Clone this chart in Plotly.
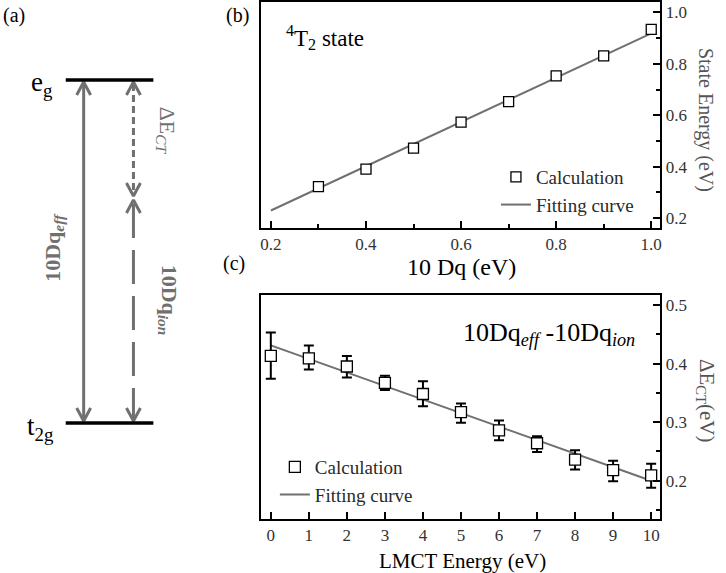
import plotly.graph_objects as go

W, H = 726, 573
SERIF = "Liberation Serif"
GRAY = "#707070"
TXT = "#2a2a2a"

# ---------------- data ----------------
# Panel (b): 4T2 state energy vs 10Dq
dq_x = [0.3, 0.4, 0.5, 0.6, 0.7, 0.8, 0.9, 1.0]
dq_energy = [0.323, 0.391, 0.472, 0.573, 0.653, 0.753, 0.831, 0.934]
dq_fit_x = [0.2, 1.0]
dq_fit_y = [0.230, 0.918]

# Panel (c): Delta E_CT vs LMCT energy
lmct_x = [0, 1, 2, 3, 4, 5, 6, 7, 8, 9, 10]
dect = [0.413, 0.409, 0.395, 0.367, 0.348, 0.317, 0.286, 0.264, 0.236, 0.218, 0.209]
dect_err_plus = [0.040, 0.022, 0.018, 0.012, 0.022, 0.015, 0.017, 0.012, 0.016, 0.016, 0.020]
dect_err_minus = [0.039, 0.019, 0.019, 0.012, 0.021, 0.018, 0.017, 0.015, 0.017, 0.019, 0.021]
lmct_fit_x = [0, 10]
lmct_fit_y = [0.431, 0.200]

# Panel (a): schematic level diagram (schematic units = pixels of panel)
level_x = [65, 153]
eg_y, t2g_y = 80, 423
eff_arrow_x = 83
ion_arrow_x = 133
ct_split_y = 198

def px(x):
    return x / W

def py(y):
    return 1 - y / H

fig = go.Figure()

# ---- panel (b) ----
fig.add_trace(go.Scatter(x=dq_fit_x, y=dq_fit_y, mode="lines", name="Fitting curve",
                         line=dict(color=GRAY, width=2), xaxis="x", yaxis="y",
                         legend="legend", legendrank=2))
fig.add_trace(go.Scatter(x=dq_x, y=dq_energy, mode="markers", name="Calculation",
                         marker=dict(symbol="square", size=10, color="white",
                                     line=dict(color="black", width=1.3)),
                         xaxis="x", yaxis="y", legend="legend", legendrank=1))

# ---- panel (c) ----
fig.add_trace(go.Scatter(x=lmct_fit_x, y=lmct_fit_y, mode="lines", name="Fitting curve",
                         line=dict(color=GRAY, width=2), xaxis="x2", yaxis="y2",
                         legend="legend2", legendrank=2))
fig.add_trace(go.Scatter(x=lmct_x, y=dect, mode="markers", name="Calculation",
                         marker=dict(symbol="square", size=11, color="white",
                                     line=dict(color="black", width=1.3)),
                         error_y=dict(type="data", array=dect_err_plus, arrayminus=dect_err_minus,
                                      color="black", thickness=2, width=5),
                         xaxis="x2", yaxis="y2", legend="legend2", legendrank=1))

# ---- panel (a) schematic ----
def chevron(xt, yt, direction):
    # direction: -1 arrow pointing up, +1 pointing down
    return [xt - 7, xt, xt + 7], [yt - direction * 13, yt, yt - direction * 13]

segments = []
segments.append(([eff_arrow_x, eff_arrow_x], [eg_y + 2, t2g_y - 2], "solid"))
segments.append(([ion_arrow_x, ion_arrow_x], [eg_y + 4, ct_split_y - 4], "7px,4px"))
segments.append(([ion_arrow_x, ion_arrow_x], [ct_split_y + 6, t2g_y - 4], "34px,12px"))
for xs, ys, dash in segments:
    fig.add_trace(go.Scatter(x=xs, y=ys, mode="lines", line=dict(color=GRAY, width=3, dash=dash),
                             xaxis="x3", yaxis="y3", showlegend=False, hoverinfo="skip"))
heads = [(eff_arrow_x, eg_y + 2, -1), (eff_arrow_x, t2g_y - 2, 1),
         (ion_arrow_x, eg_y + 2, -1), (ion_arrow_x, ct_split_y - 2, 1),
         (ion_arrow_x, ct_split_y + 2, -1), (ion_arrow_x, t2g_y - 2, 1)]
for xt, yt, d in heads:
    cx, cy = chevron(xt, yt, d)
    fig.add_trace(go.Scatter(x=cx, y=cy, mode="lines", line=dict(color=GRAY, width=3),
                             xaxis="x3", yaxis="y3", showlegend=False, hoverinfo="skip"))
for ly in [eg_y, t2g_y]:
    fig.add_trace(go.Scatter(x=level_x, y=[ly, ly], mode="lines", line=dict(color="black", width=3.5),
                             xaxis="x3", yaxis="y3", showlegend=False, hoverinfo="skip"))

# ---- axes ----
common_x = dict(showline=True, linecolor="black", linewidth=2, mirror=True,
                ticks="inside", ticklen=7, tickwidth=1.5, tickcolor="black",
                showgrid=False, zeroline=False,
                tickfont=dict(family=SERIF, size=17, color="#333"))
common_y = dict(showline=True, linecolor="black", linewidth=2, mirror=True,
                ticks="inside", ticklen=7, tickwidth=1.5, tickcolor="black",
                showgrid=False, zeroline=False, side="right",
                tickfont=dict(family=SERIF, size=17, color="#333"))

fig.update_layout(
    width=W, height=H, margin=dict(l=0, r=0, t=0, b=0),
    paper_bgcolor="white", plot_bgcolor="white",
    xaxis=dict(common_x, domain=[px(261), px(662)], range=[0.179, 1.019],
               tickvals=[0.2, 0.4, 0.6, 0.8, 1.0], tickformat=".1f",
               minor=dict(dtick=0.1, tick0=0.2, ticks="inside", ticklen=4, tickcolor="black", showgrid=False),
               anchor="y"),
    yaxis=dict(common_y, domain=[py(228), py(2)], range=[0.162, 1.04],
               tickvals=[0.2, 0.4, 0.6, 0.8, 1.0], tickformat=".1f",
               minor=dict(dtick=0.1, tick0=0.2, ticks="inside", ticklen=4, tickcolor="black", showgrid=False),
               anchor="x"),
    xaxis2=dict(common_x, domain=[px(261), px(662)], range=[-0.26, 10.24],
                tickvals=lmct_x, anchor="y2"),
    yaxis2=dict(common_y, domain=[py(519), py(295)], range=[0.1347, 0.517],
                tickvals=[0.2, 0.3, 0.4, 0.5], tickformat=".1f",
                minor=dict(dtick=0.05, tick0=0.15, ticks="inside", ticklen=4, tickcolor="black", showgrid=False),
                anchor="x2"),
    xaxis3=dict(domain=[0, px(240)], range=[0, 240], visible=False, anchor="y3"),
    yaxis3=dict(domain=[0, 1], range=[H, 0], visible=False, anchor="x3"),
    legend=dict(x=px(497), y=py(158), xanchor="left", yanchor="top",
                bgcolor="rgba(0,0,0,0)", font=dict(family=SERIF, size=19, color=TXT),
                itemwidth=30, tracegroupgap=0),
    legend2=dict(x=px(275), y=py(448), xanchor="left", yanchor="top",
                 bgcolor="rgba(0,0,0,0)", font=dict(family=SERIF, size=19, color=TXT),
                 itemwidth=30, tracegroupgap=0),
)

annotations = [
    dict(x=px(0), y=py(16), text="(a)", xanchor="left", font=dict(size=20)),
    dict(x=px(224), y=py(16), text="(b)", xanchor="left", font=dict(size=20)),
    dict(x=px(221), y=py(263), text="(c)", xanchor="left", font=dict(size=20)),
    dict(x=px(284), y=py(37), text="<sup>4</sup>T<sub>2</sub> state", xanchor="left", font=dict(size=23)),
    dict(x=px(462), y=py(334), text="10Dq<sub><i>eff</i></sub> -10Dq<sub><i>ion</i></sub>",
         xanchor="left", font=dict(size=26)),
    dict(x=px(462), y=py(267), text="10 Dq (eV)", font=dict(size=24)),
    dict(x=px(463), y=py(561), text="LMCT Energy (eV)", font=dict(size=21)),
    dict(x=px(708), y=py(120), text="State Energy (eV)", textangle=90, font=dict(size=20, color="#555")),
    dict(x=px(708), y=py(401), text="ΔE<sub>CT</sub>(eV)", textangle=90, font=dict(size=21, color="#555")),
    dict(x=px(41), y=py(84), text="e<sub>g</sub>", font=dict(size=27, color="black")),
    dict(x=px(40), y=py(428), text="t<sub>2g</sub>", font=dict(size=27, color="black")),
    dict(x=px(53), y=py(247), text="<b>10Dq<sub><i>eff</i></sub></b>", textangle=-90,
         font=dict(size=22, color=GRAY)),
    dict(x=px(166), y=py(131), text="ΔE<sub><i>CT</i></sub>", textangle=90,
         font=dict(size=22, color=GRAY)),
    dict(x=px(168), y=py(300), text="<b>10Dq<sub><i>ion</i></sub></b>", textangle=90,
         font=dict(size=22, color=GRAY)),
]
for a in annotations:
    f = dict(family=SERIF, color="black")
    f.update(a.get("font", {}))
    a["font"] = f
    a.setdefault("xanchor", "center")
    a.update(xref="paper", yref="paper", showarrow=False, yanchor="middle")
    fig.add_annotation(**a)

fig.write_html("out.html", config={"displayModeBar": False},
               post_script="document.body.style.margin='0px';")
